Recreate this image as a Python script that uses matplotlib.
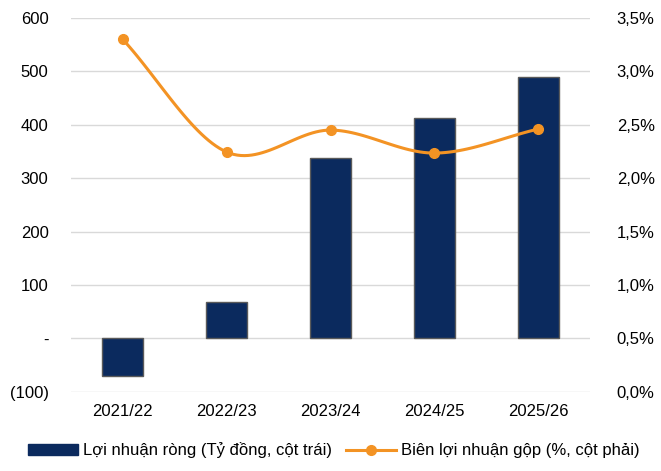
import numpy as np
import matplotlib.pyplot as plt
from matplotlib.ticker import FuncFormatter

plt.rcParams['font.family'] = ['Liberation Sans', 'DejaVu Sans']

years = ['2021/22', '2022/23', '2023/24', '2024/25', '2025/26']
net_profit = [-70, 69, 338, 413, 490]          # ty dong, left axis
gross_margin = [3.30, 2.245, 2.45, 2.235, 2.46]  # %, right axis

bar_color = '#0b2a5e'
line_color = '#f39324'


def smooth(xs, ys, n=30):
    # Catmull-Rom curve through the points, like Excel's smoothed line
    xs = np.asarray(xs, float)
    ys = np.asarray(ys, float)
    px = np.concatenate([[2 * xs[0] - xs[1]], xs, [2 * xs[-1] - xs[-2]]])
    py = np.concatenate([[2 * ys[0] - ys[1]], ys, [2 * ys[-1] - ys[-2]]])
    out_x, out_y = [], []
    t = np.linspace(0, 1, n)
    for i in range(1, len(px) - 2):
        for p, out in ((px, out_x), (py, out_y)):
            p0, p1, p2, p3 = p[i - 1], p[i], p[i + 1], p[i + 2]
            out.extend(0.5 * (2 * p1 + (-p0 + p2) * t
                              + (2 * p0 - 5 * p1 + 4 * p2 - p3) * t ** 2
                              + (-p0 + 3 * p1 - 3 * p2 + p3) * t ** 3))
    return out_x, out_y


fig = plt.figure(figsize=(6.61, 4.71), dpi=100)
ax = fig.add_axes([0.107, 0.168, 0.786, 0.794])
x = np.arange(len(years))

ax.bar(x, net_profit, width=0.4, color=bar_color, edgecolor='#5a5a5a',
       linewidth=1.0, zorder=2, label='Lợi nhuận ròng (Tỷ đồng, cột trái)')
ax.set_ylim(-100, 600)
ax.set_yticks(range(-100, 601, 100))
ax.yaxis.set_major_formatter(FuncFormatter(
    lambda v, p: '-' if v == 0 else (f'({abs(int(v))})' if v < 0 else f'{int(v)}')))
ax.set_xlim(-0.5, len(years) - 0.5)
ax.set_xticks(x)
ax.set_xticklabels(years)
ax.grid(axis='y', color='#d9d9d9', linewidth=1.0, zorder=0)
ax.set_axisbelow(True)

ax2 = ax.twinx()
sx, sy = smooth(x, gross_margin)
ax2.plot(sx, sy, color=line_color, linewidth=2.2, zorder=3)
ax2.plot(x, gross_margin, 'o', color=line_color, markersize=7, zorder=4)
ax2.set_ylim(0, 3.5)
ax2.set_yticks(np.arange(0, 3.51, 0.5))
ax2.yaxis.set_major_formatter(FuncFormatter(lambda v, p: f'{v:.1f}%'.replace('.', ',')))

for a in (ax, ax2):
    for s in a.spines.values():
        s.set_visible(False)
    a.tick_params(length=0, labelsize=12, colors='#000000')
ax.tick_params(axis='y', pad=16)
ax.tick_params(axis='x', pad=9)
ax2.tick_params(axis='y', pad=19)

handles = [plt.Rectangle((0, 0), 1, 1, color=bar_color),
           plt.Line2D([0], [0], color=line_color, linewidth=2.2, marker='o', markersize=7)]
labels = ['Lợi nhuận ròng (Tỷ đồng, cột trái)', 'Biên lợi nhuận gộp (%, cột phải)']
fig.legend(handles, labels, loc='lower center', bbox_to_anchor=(0.505, -0.005), ncol=2,
           frameon=False, fontsize=12, handlelength=3.0, handletextpad=0.3,
           columnspacing=0.8)

fig.savefig('out.png', dpi=100)
